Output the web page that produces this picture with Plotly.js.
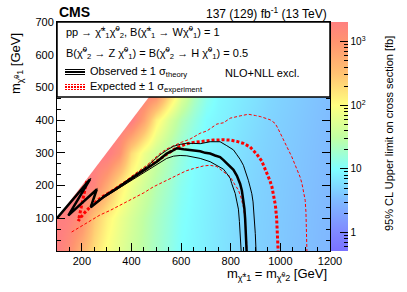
<!DOCTYPE html>
<html><head><meta charset="utf-8">
<script src="https://cdn.plot.ly/plotly-3.0.1.min.js"></script>
<style>html,body{margin:0;padding:0;background:#fff;}</style>
</head><body><div id="chart" style="width:407px;height:292px;"></div>
<script>
// ---- heat map: 95% CL upper limit (fb) on a 50 GeV (chargino) x 100 GeV (LSP) grid ----
const charginoMass = [100,150,200,250,300,350,400,450,500,550,600,650,700,750,800,850,900,950,1000,1050,1100,1150,1200];
const lspMass = [0,100,200,300,400,500,600,700];
const limitLsp0   = [2200,1230,450,185,92,61,40,28,19.5,14,10,8.7,7.6,6.6,5.8,5.0,4.66,4.3,4.0,3.7,3.5,3.2,3.0];
const limitLsp100 = [2500,1900,1150,300,129,74,47,30,21,15,10.7,9,7.8,6.8,5.9,5.15,4.73,4.4,4.08,3.8,3.52,3.27,3.04];
const limitLsp200 = [2500,2500,2500,1700,540,155,72,42,26,18,12,9.4,8.2,7.1,6.2,5.4,4.86,4.5,4.18,3.87,3.6,3.33,3.09];
const limitLsp300 = [2500,2500,2500,2500,2500,1230,200,73,39,23.5,15.2,10,8.7,7.6,6.7,5.8,5.1,4.67,4.32,4.0,3.7,3.43,3.17];
const limitLsp400 = [2500,2500,2500,2500,2500,2500,2500,675,132,50,24.5,14.8,9.7,8.5,7.4,6.4,5.6,4.93,4.54,4.18,3.85,3.54,3.26];
const limitLsp500 = [2500,2500,2500,2500,2500,2500,2500,2500,2500,380,79,27,14.5,9.5,8.2,7.2,6.3,5.4,4.84,4.43,4.05,3.7,3.4];
const limitLsp600 = [2500,2500,2500,2500,2500,2500,2500,2500,2500,2500,2500,600,150,40,18,11,8.6,7.2,6.2,5.4,4.8,4.3,3.9];
const limitLsp700 = [2500,2500,2500,2500,2500,2500,2500,2500,2500,2500,2500,2500,2500,700,180,50,20,12,9,7.4,6.2,5.3,4.6];
// kinematic boundary m(LSP) = m(chargino)
const diagonalMass = [100, 700];

// ---- contours ----
const obsX = [100,233,146,260,236,287,341,381,408,435,462,502,522,542,562,583,610,636,657,677,697,717,737,757,771,784,798,811,825,838,845,851,855,858,861,863,864];
const obsY = [100,219,109,188,134,165,191,211,227,240,252,273,285,298,305,314,311,309,306,305,300,298,292,287,278,268,258,248,230,205,184,155,130,100,65,30,0];
const obsUpX = [100,236,146,262,236,287,341,381,408,435,462,488,515,542,569,596,623,650,677,717,757,784,811,825,838,851,858,871,878,885,890,892,896,899,902];
const obsUpY = [100,222,109,191,134,168,194,214,230,244,258,276,294,308,320,326,329,329,328,334,334,322,309,294,280,262,247,216,196,175,150,130,94,53,0];
const obsDnX = [100,230,146,258,236,287,341,381,408,435,462,502,542,570,596,623,650,677,717,757,771,784,798,804,818,825,831,835,838,840,842];
const obsDnY = [100,214,109,184,134,162,188,207,222,234,245,265,283,290,292,291,288,283,273,257,250,237,222,206,176,150,128,90,50,20,0];
const expX = [220,205,186,205,240,280,327,381,435,488,542,570,596,623,650,690,730,770,798,825,851,878,905,925,945,958,966,975,980,985,988,990,991];
const expY = [214,160,92,112,140,165,185,212,240,268,296,310,320,328,332,336,339,340,339,335,329,318,296,275,240,215,196,160,140,100,60,30,0];
const expUpX = [300,341,381,408,435,462,488,515,542,569,600,636,677,704,744,771,798,838,871,900,919,959,979,990,999,1015,1026,1046,1066,1080,1087,1095,1100,1103,1104,1106,1107];
const expUpY = [176,196,217,233,247,262,280,298,312,322,332,342,360,367,388,392,406,413,418,414,411,401,390,375,360,335,319,288,252,225,206,180,155,120,94,40,0];
const expDnX = [159,190,220,250,273,314,350,381,408,450,488,540,583,620,650,690,717,744,771,798,815,831,841,851,858,862,864,865];
const expDnY = [58,72,84,98,110,124,138,150,160,178,196,216,232,245,252,260,262,258,242,227,205,186,165,134,95,60,30,0];

// ---- axes / colour bar ticks ----
const xTickVals = [200,400,600,800,1000,1200];
const yTickVals = [100,200,300,400,500,600,700];
const zMajorVals = [1,10,100,1000];
const zMajorText = ['1','10','10<sup>2</sup>','10<sup>3</sup>'];
const zMinorVals = [0.6,0.7,0.8,0.9,2,3,4,5,6,7,8,9,20,30,40,50,60,70,80,90,200,300,400,500,600,700,800,900,2000];
const zRangeLog = [-0.29, 3.31];

const FONT = 'Liberation Sans, Arial, Helvetica, sans-serif';
const chi = '\u03c7\u0303';

// colour palette (log10 of limit -> colour)
const paletteStops = [[-0.29,'#7a72ff'],[0,'#8088ff'],[0.5,'#80baff'],[1,'#80ffff'],[1.5,'#c2ffa2'],[2,'#ffff80'],[2.5,'#ffc272'],[3,'#ff9470'],[3.31,'#ff8080']];
const colorscale = paletteStops.map(s => [(s[0]-zRangeLog[0])/(zRangeLog[1]-zRangeLog[0]), s[1]]);

const limitRows = [limitLsp0,limitLsp100,limitLsp200,limitLsp300,limitLsp400,limitLsp500,limitLsp600,limitLsp700];
const zLog = limitRows.map(r => r.map(v => Math.log10(v)));

const cbCommon = {x:1.0037, xanchor:'left', y:0.5, yanchor:'middle', len:1, lenmode:'fraction',
  thickness:17, thicknessmode:'pixels', outlinewidth:0, xpad:0, ypad:0, tickcolor:'#000', tickwidth:1,
  ticks:'inside', tickmode:'array', tickfont:{family:FONT, size:10, color:'#000'}};

const traces = [
  {type:'heatmap', x:charginoMass, y:lspMass, z:zLog, zmin:zRangeLog[0], zmax:zRangeLog[1],
   colorscale:colorscale, zsmooth:'best', hoverinfo:'skip',
   colorbar:Object.assign({}, cbCommon, {ticklen:8, tickvals:zMajorVals.map(Math.log10), ticktext:zMajorText})},
  {type:'heatmap', x:[5000,5001], y:[5000], z:[[0,1]], zmin:zRangeLog[0], zmax:zRangeLog[1],
   colorscale:[[0,'rgba(0,0,0,0)'],[1,'rgba(0,0,0,0)']], hoverinfo:'skip',
   colorbar:Object.assign({}, cbCommon, {ticklen:4, tickvals:zMinorVals.map(Math.log10), showticklabels:false})},
  {type:'scatter', mode:'lines', x:[diagonalMass[0],diagonalMass[1],diagonalMass[0]], y:[diagonalMass[0],diagonalMass[1],diagonalMass[1]],
   fill:'toself', fillcolor:'#ffffff', line:{width:0, color:'rgba(0,0,0,0)'}, hoverinfo:'skip', showlegend:false},
  {type:'scatter', mode:'lines', x:expUpX, y:expUpY, line:{color:'#ff0000', width:1, dash:'3px,2px'}, showlegend:false},
  {type:'scatter', mode:'lines', x:expDnX, y:expDnY, line:{color:'#ff0000', width:1, dash:'3px,2px'}, showlegend:false},
  {type:'scatter', mode:'lines', x:expX, y:expY, line:{color:'#ff0000', width:3, dash:'3px,2px'}, showlegend:false},
  {type:'scatter', mode:'lines', x:obsUpX, y:obsUpY, line:{color:'#000', width:1}, showlegend:false},
  {type:'scatter', mode:'lines', x:obsDnX, y:obsDnY, line:{color:'#000', width:1}, showlegend:false},
  {type:'scatter', mode:'lines', x:obsX, y:obsY, line:{color:'#000', width:2.5}, showlegend:false}
];

// paper-coordinate helpers for the 57..330 x 22..251 px plot area
const PX = p => (p-57)/273;
const PY = p => (251-p)/229;

const legendLine = (x0,x1,y,color,width,dash) => ({type:'line', xref:'paper', yref:'paper', x0:PX(x0), x1:PX(x1), y0:PY(y), y1:PY(y), layer:'above', line:{color:color, width:width, dash:dash||'solid'}});

const shapes = [
  {type:'rect', xref:'paper', yref:'paper', x0:0, x1:1, y0:PY(97), y1:1, fillcolor:'#ffffff', line:{color:'#000', width:1.5}, layer:'above'},
  legendLine(65,85,69.5,'#000',1), legendLine(65,85,72,'#000',2), legendLine(65,85,74.5,'#000',1),
  legendLine(65,85,84.5,'#ff0000',1,'2px,1px'), legendLine(65,85,87,'#ff0000',2,'2px,1px'), legendLine(65,85,89.5,'#ff0000',1,'2px,1px')
];

const ann = (text,x,y,opts) => Object.assign({text:text, xref:'paper', yref:'paper', x:x, y:y, showarrow:false, xanchor:'left', yanchor:'middle', font:{family:FONT, size:11, color:'#000'}}, opts||{});

const annotations = [
  ann('<b>CMS</b>', PX(57), PY(12), {font:{family:FONT, size:14, color:'#000'}}),
  ann('137 (129) fb<sup>-1</sup> (13 TeV)', PX(329), PY(13), {xanchor:'right', font:{family:FONT, size:12, color:'#000'}}),
  ann(`pp → ${chi}<sup>±</sup><sub>1</sub>${chi}<sup>0</sup><sub>2</sub>, B(${chi}<sup>±</sup><sub>1</sub> → W${chi}<sup>0</sup><sub>1</sub>) = 1`, PX(64), PY(32)),
  ann(`B(${chi}<sup>0</sup><sub>2</sub> → Z ${chi}<sup>0</sup><sub>1</sub>) = B(${chi}<sup>0</sup><sub>2</sub> → H ${chi}<sup>0</sup><sub>1</sub>) = 0.5`, PX(64), PY(53)),
  ann('Observed ± 1 σ<sub>theory</sub>', PX(88), PY(72)),
  ann('Expected ± 1 σ<sub>experiment</sub>', PX(88), PY(87)),
  ann('NLO+NLL excl.', PX(223), PY(73)),
  ann(`m<sub>${chi}<sup>0</sup>1</sub> [GeV]`, PX(17), PY(64), {textangle:-90, xanchor:'center', font:{family:FONT, size:13, color:'#000'}}),
  ann(`m<sub>${chi}<sup>±</sup>1</sub> = m<sub>${chi}<sup>0</sup>2</sub> [GeV]`, PX(329), PY(274), {xanchor:'right', font:{family:FONT, size:13, color:'#000'}}),
  ann('95% CL Upper limit on cross section [fb]', PX(389), PY(134), {textangle:-90, xanchor:'center', font:{family:FONT, size:11, color:'#000'}})
];

const axisCommon = {showline:true, linecolor:'#000', linewidth:1, mirror:'ticks', ticks:'inside', tickcolor:'#000', ticklen:8, tickwidth:1,
  showgrid:false, zeroline:false, tickfont:{family:FONT, size:11, color:'#000'}, layer:'above traces'};

const layout = {
  width:407, height:292, margin:{l:57, r:77, t:22, b:41}, paper_bgcolor:'#fff', plot_bgcolor:'#fff',
  showlegend:false, font:{family:FONT, color:'#000'},
  xaxis:Object.assign({}, axisCommon, {range:[100,1200], tickmode:'array', tickvals:xTickVals, ticktext:xTickVals.map(String),
    minor:{tickmode:'linear', tick0:0, dtick:50, ticklen:4, ticks:'inside', tickcolor:'#000'}}),
  yaxis:Object.assign({}, axisCommon, {range:[0,700], tickmode:'array', tickvals:yTickVals, ticktext:yTickVals.map(String),
    minor:{tickmode:'linear', tick0:0, dtick:100/3, ticklen:4, ticks:'inside', tickcolor:'#000'}}),
  shapes:shapes, annotations:annotations
};

Plotly.newPlot('chart', traces, layout, {displayModeBar:false, staticPlot:true});
</script></body></html>
